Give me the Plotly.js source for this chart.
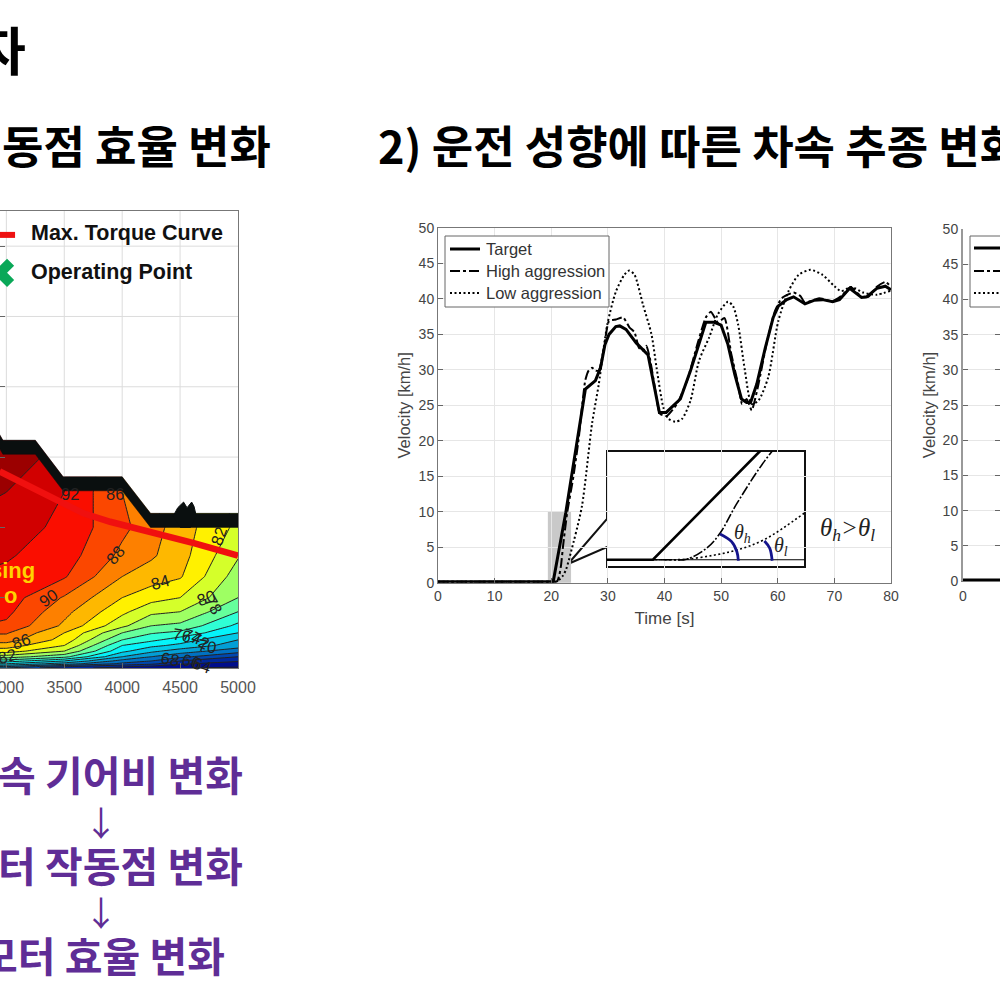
<!DOCTYPE html>
<html><head><meta charset="utf-8">
<script src="https://cdn.plot.ly/plotly-3.0.1.min.js"></script>
<style>html,body{margin:0;padding:0;background:#fff;overflow:hidden}#c{width:1000px;height:998px}</style>
</head><body><div id="c"></div>
<script>
// velocity profiles (time [s], velocity [km/h])
const targetT=[0,20.35,22.57,26.03,27.8,28.7,29.5,30.2,31.4,32.1,33.2,35,37.1,38.1,39.1,40.3,42.8,44.6,46.1,47.3,48.8,50,51.2,52.4,53.6,54.5,55.2,56.3,57.8,59.2,60.1,61.6,62.8,63.7,64.8,66.4,67.9,69.7,70.9,72.7,74.8,75.7,77.5,79,80];
const targetV=[0.15,0.15,9.9,27.3,28.5,30.3,33.6,35,36.1,36.2,35.7,33.8,32.1,28,24,24,25.9,29.9,33.6,36.7,36.7,36.3,33.6,29.4,25.9,25.4,25.4,28,33.1,37.4,39,39.9,40.3,39.9,39.3,39.8,39.9,39.6,39.9,41.5,40.2,40.3,41.5,41.8,41.3];
const highT=[0,10,15,18,19.5,20.3,20.7,21.05,21.46,21.74,22.09,22.81,23.9,24.8,26,26.6,27.2,27.8,28.4,29.3,30.2,31.4,32.7,33.8,34.7,35.5,36.2,36.8,37.4,38.3,39.2,40.4,42.2,44,45.8,47.3,48.2,49.4,50.6,51.8,53,53.7,54.5,55.4,56.6,58,59.5,60.7,62.8,64,64.8,67.3,69.7,71.2,72.9,74.8,76,77.5,79,80];
const highV=[0.15,0.15,0.15,0.15,0.15,0.15,0.15,0.2,1.18,2.52,5.2,9.84,14.9,20,28.5,29.9,30.3,29.9,29.9,33.1,36.9,37.1,37.4,36,35.3,33.1,32.7,33.4,31.7,27.5,23.8,23.5,25.2,28.5,33.6,37.4,38.2,36.7,37.3,32.2,28,25.2,25.9,24.3,28,33.6,38.3,40.1,40.9,40.4,39.5,40.1,39.7,40.4,41.7,40.3,40.3,41.7,42.4,41.7];
const lowT=[0,10,15,18,19.5,20.3,20.7,21.05,21.6,22.09,22.64,23.46,25.4,27.2,28.4,29.9,31.4,32.9,33.8,34.7,36.2,37.7,38.6,39.8,40.7,41.9,43.1,44.6,46.1,47.9,49.4,51.2,52.1,53,54.2,55.4,56.6,58.3,60.1,61.9,63.7,65.8,67.9,70,71.2,73,75.1,77.5,80];
const lowV=[0.15,0.15,0.15,0.15,0.15,0.15,0.15,0.2,0.55,1.02,1.92,4.25,10.7,22.4,28,36.4,41,43.4,44,43.4,39.2,35,30.3,24.7,23.1,22.7,23.1,25.7,31.3,34.6,37.8,39.6,39,36.4,29.9,25.2,25.7,28.9,36.9,41.1,43.4,44.1,43.4,41.8,41.1,41.7,40.9,40.6,41.2];
const zeroLineT=[20.35,23.5];
const zeroLineV=[0.15,0.15];
const arcHighT=[21.74,21.98,22.09,22.12];
const arcHighV=[2.46,1.77,0.87,0.06];
const arcLowT=[22.66,22.77,22.82];
const arcLowV=[1.83,1.18,0.06];
const second_T=[0,7];
const second_V=[0.15,0.15];
// efficiency map
const speedRpm=[2900,3000,3500,4000,4250,4500,5000];
const torqueNm=[0,1,3,5,8,12,16,20,25,30,40,50,65,80,100,125,150,175];
const effMap=[
[66,66,  62.5,61.5,60.5,60.2,59.5],
[68,68,  64.2,62.2,61.5,60.8,60.2],
[72,72,  69,  65.5,64.5,62.2,61.2],
[75,75,  72,  67.2,66,  64,  62.2],
[79,79,  76.6,70,  68,  66.5,64],
[83,83,  80,  72.5,70.5,69,  66.8],
[85,85,  82,  74,  72.5,71.5,69],
[87,87,  83.2,76,  74.5,73,  70],
[88.2,88.2,84,  78,  76.2,75.5,72],
[89.8,89.6,85.6,80.5,78,  77.5,73.5],
[90.6,90.5,86.6,82.5,80.5,80,  76],
[91.1,91,  87.8,84,  82.8,82,  78],
[91.7,91.6,90.2,86,  85,  84.2,79],
[92.3,92.2,91,  87.5,86.3,84.8,80.2],
[93.1,93,  91.5,88.5,86.9,85,  81.5],
[94.2,94,  92,  88,  86,  84.6,81.5],
[95.6,95.5,93,  88,  86,  84.6,81.5],
[96,96,  93,  88,  86,  84.6,81.5]];
const envRpm=[2900,2970,3250,3490,4000,4245,5000];
const envTop=[172,162,162,136,136,110,110];
const envBottom=[162,152,152,126,126,100,100];
const maxTorqueRpm=[2942,3231,3462,3665,3896,4113,4358,4618,5000];
const maxTorqueNm=[139.8,128,118.5,110,104,99.5,94.8,88.8,79.9];
const blobRpm=[4440,4480,4530,4560,4600,4620,4640,4590,4500];
const blobNm=[108,114,118,114,118,115,108,100,100];
const mapGridX=[3000,3000,null,3500,3500,null,4000,4000,null,4500,4500,null,2945,5000,null,2945,5000,null,2945,5000,null,3361,5000];
const mapGridY=[162,325,null,136,325,null,136,325,null,110,325,null,300,300,null,250,250,null,200,200,null,150,150];
const contourLabels=[['92',3549,124,0],['90',3361,50,-35],['88',3939,80.6,-50],['86',3130,19,-20],['86',3939,124,0],['84',4329,61,-15],['82',4835,93.6,-70],['80',4720,49.8,-20],['78',4792,45,60],['76',4517,23.7,10],['74',4604,22.5,20],['72',4670,19.7,30],['70',4734,15.4,10],['68',4416,6.4,10],['66',4590,4.7,15],['64',4690,2.4,20],['62',4820,-1,-20],['82',3006,8.3,-15]];
const F='"Liberation Sans",Arial,sans-serif', K='"Noto Sans CJK KR","Noto Sans",sans-serif';
const px=x=>x/1000, py=y=>1-y/998;
function xDom(a,b){return [a/1000,b/1000]}
function yDom(a,b){return [1-b/998,1-a/998]}
const axMain={showline:true,linecolor:'#777',linewidth:1,mirror:true,ticks:'inside',ticklen:5,tickcolor:'#666',showgrid:true,gridcolor:'#e6e6e6',zeroline:false,tickfont:{family:F,size:14,color:'#444'}};
const dd='10px,3px,3px,3px', dot='2px,2.5px';
const traces=[
{x:targetT,y:targetV,name:'Target',mode:'lines',line:{color:'#000',width:3},xaxis:'x',yaxis:'y'},
{x:highT,y:highV,name:'High aggression',mode:'lines',line:{color:'#000',width:2,dash:dd,shape:'spline',smoothing:0.5},xaxis:'x',yaxis:'y'},
{x:lowT,y:lowV,name:'Low aggression',mode:'lines',line:{color:'#000',width:2,dash:dot,shape:'spline',smoothing:0.7},xaxis:'x',yaxis:'y'},
// inset
{x:targetT,y:targetV,mode:'lines',line:{color:'#000',width:2.6},xaxis:'x2',yaxis:'y2'},
{x:highT,y:highV,mode:'lines',line:{color:'#000',width:1.6,dash:'10px,2px,2px,2px',shape:'spline'},xaxis:'x2',yaxis:'y2'},
{x:lowT,y:lowV,mode:'lines',line:{color:'#000',width:1.6,dash:dot,shape:'spline'},xaxis:'x2',yaxis:'y2'},
{x:zeroLineT,y:zeroLineV,mode:'lines',line:{color:'#000',width:1},xaxis:'x2',yaxis:'y2'},
{x:arcHighT,y:arcHighV,mode:'lines',line:{color:'#14148c',width:2.8,shape:'spline'},xaxis:'x2',yaxis:'y2'},
{x:arcLowT,y:arcLowV,mode:'lines',line:{color:'#14148c',width:2.8,shape:'spline'},xaxis:'x2',yaxis:'y2'},
// second velocity chart
{x:second_T,y:second_V,mode:'lines',line:{color:'#000',width:3},xaxis:'x3',yaxis:'y3',cliponaxis:false},
// efficiency map
{type:'contour',x:speedRpm,y:torqueNm,z:effMap,xaxis:'x4',yaxis:'y4',showscale:false,zmin:60,zmax:96,colorscale:'Jet',autocontour:false,
 contours:{start:60,end:96,size:2,coloring:'fill'},line:{color:'#222',width:1,smoothing:0},hoverinfo:'skip'},
{x:[2900,2970,3250,3490,4000,4245,5000,5000,2900],y:[172,162,162,136,136,110,110,325,325],mode:'lines',fill:'toself',fillcolor:'#fff',line:{width:0,color:'#fff'},xaxis:'x4',yaxis:'y4',hoverinfo:'skip'},
{x:mapGridX,y:mapGridY,mode:'lines',line:{color:'#dcdcdc',width:1},xaxis:'x4',yaxis:'y4',hoverinfo:'skip',connectgaps:false},
{x:envRpm.concat(envRpm.slice().reverse()),y:envTop.concat(envBottom.slice().reverse()),mode:'lines',fill:'toself',fillcolor:'#0a0f0f',line:{width:0.5,color:'#0a0f0f'},xaxis:'x4',yaxis:'y4',hoverinfo:'skip'},
{x:blobRpm,y:blobNm,mode:'lines',fill:'toself',fillcolor:'#0a0f0f',line:{width:1,color:'#0a0f0f'},xaxis:'x4',yaxis:'y4',hoverinfo:'skip'},
{x:maxTorqueRpm,y:maxTorqueNm,mode:'lines',line:{color:'#f0100f',width:6.5},xaxis:'x4',yaxis:'y4',hoverinfo:'skip'},
{x:[2945,3075],y:[308,308],mode:'lines',line:{color:'#ee1111',width:6},xaxis:'x4',yaxis:'y4',hoverinfo:'skip'},
{x:[2945],y:[281],mode:'markers',marker:{symbol:'x',color:'#0aa858',size:25,line:{width:0}},xaxis:'x4',yaxis:'y4',hoverinfo:'skip',cliponaxis:false}
];
const annos=[];
function T(text,x,y,size,color,anchor,font,weight,extra){annos.push(Object.assign({text:weight?'<b>'+text+'</b>':text,xref:'paper',yref:'paper',x:px(x),y:py(y),xanchor:anchor||'left',yanchor:'middle',showarrow:false,font:{family:font||F,size:size,color:color||'#000'}},extra||{}));}
const purple='#5f2d96';
T('자',28,48,52,'#000','right',K,true);
T('동점 효율 변화',273,144,45,'#000','right',K,true);
T('2) 운전 성향에 따른 차속 추종 변화',376,144,45,'#000','left',K,true);
T('속 기어비 변화',245,773,41,purple,'right',K,true);
T('터 작동점 변화',245,864,41,purple,'right',K,true);
T('모터 효율 변화',227,954,41,purple,'right',K,true);
T('↓',101,821,34,purple,'center',K);
T('↓',101,911,34,purple,'center',K);
T('Max. Torque Curve',29,233,21.5,'#111','left',F,true);
T('Operating Point',29,272,21.5,'#111','left',F,true);
T('sing',37,570,22,'#ffd200','right',F,true);
T('o',10,595,22,'#ffd200','center',F,true);
T('<i>θ<sub>h</sub>&gt;θ<sub>l</sub></i>',818,529,25,'#222','left','"Liberation Serif",serif');
T('<i>θ<sub>h</sub></i>',732,533,20,'#222','left','"Liberation Serif",serif');
T('<i>θ<sub>l</sub></i>',772,546,20,'#222','left','"Liberation Serif",serif');
T('Target',484,249,16.5,'#333','left',F);
T('High aggression',484,271,16.5,'#333','left',F);
T('Low aggression',484,293,16.5,'#333','left',F);
contourLabels.forEach(c=>annos.push({text:c[0],xref:'x4',yref:'y4',x:c[1],y:c[2],showarrow:false,textangle:c[3],font:{family:F,size:16.5,color:'#222'}}));
function legendShapes(x0,x1,ys,box){return [
{type:'rect',xref:'paper',yref:'paper',x0:px(box[0]),x1:px(box[1]),y0:py(box[3]),y1:py(box[2]),line:{color:'#666',width:1},fillcolor:'#fff',layer:'above'},
{type:'line',xref:'paper',yref:'paper',x0:px(x0),x1:px(x1),y0:py(ys[0]),y1:py(ys[0]),line:{color:'#000',width:3},layer:'above'},
{type:'line',xref:'paper',yref:'paper',x0:px(x0),x1:px(x1),y0:py(ys[1]),y1:py(ys[1]),line:{color:'#000',width:2,dash:dd},layer:'above'},
{type:'line',xref:'paper',yref:'paper',x0:px(x0),x1:px(x1),y0:py(ys[2]),y1:py(ys[2]),line:{color:'#000',width:2,dash:dot},layer:'above'}];}
const shapes=[
{type:'rect',xref:'x',yref:'y',x0:19.4,x1:23.5,y0:-0.47,y1:9.95,fillcolor:'#c9c9c9',line:{width:0},layer:'below'},
{type:'path',xref:'paper',yref:'paper',layer:'below',
 path:`M ${px(607)} ${py(519)} L ${px(607)} ${py(451)} L ${px(805)} ${py(451)} L ${px(805)} ${py(567)} L ${px(607)} ${py(567)} L ${px(607)} ${py(547)} L ${px(568)} ${py(564)} Z`,
 line:{color:'#111',width:2},fillcolor:'rgba(255,255,255,0)'}
].concat(legendShapes(450,480,[249,271,293],[445,609,236,307]),legendShapes(974,1010,[248,271,293],[970,1050,236,307]));
const velTitle=s=>({text:'Velocity [km/h]',font:{family:F,size:16.5,color:'#444'},standoff:s});
const layout={width:1000,height:998,margin:{l:0,r:0,t:0,b:0,pad:0},paper_bgcolor:'#fff',plot_bgcolor:'rgba(0,0,0,0)',font:{family:F},hovermode:false,
 showlegend:false,
 xaxis:Object.assign({},axMain,{domain:xDom(438,891),range:[0,80],dtick:10,anchor:'y',ticklabeloverflow:'allow',title:{text:'Time [s]',font:{family:F,size:17,color:'#444'},standoff:9}}),
 yaxis:Object.assign({},axMain,{domain:yDom(228,582.7),range:[0,50],dtick:5,anchor:'x',ticklabeloverflow:'allow',title:velTitle(3)}),
 xaxis2:{domain:xDom(607,805),range:[19.4,23.5],anchor:'y2',visible:false},
 yaxis2:{domain:yDom(451,567),range:[-0.5,9.9],anchor:'x2',visible:false},
 xaxis3:Object.assign({},axMain,{domain:xDom(963,1000),range:[0,6.6],tickvals:[0],anchor:'y3',mirror:false,ticklabeloverflow:'allow',showgrid:false,ticklabelstandoff:2}),
 yaxis3:Object.assign({},axMain,{domain:yDom(229,581),range:[0,50],dtick:5,anchor:'x3',mirror:'allticks',ticklabeloverflow:'allow',linewidth:2,linecolor:'#999',title:velTitle(3)}),
 xaxis4:{domain:xDom(0,238),range:[2945,5000],tickvals:[3000,3500,4000,4500,5000],anchor:'y4',showgrid:false,zeroline:false,showline:true,linecolor:'#777',mirror:true,ticks:'inside',ticklen:5,tickcolor:'#666',tickfont:{family:F,size:16,color:'#555'},ticklabeloverflow:'allow',ticklabelstandoff:5},
 yaxis4:{domain:yDom(211,668),range:[0,325],dtick:50,anchor:'x4',showgrid:false,zeroline:false,showline:true,linecolor:'#777',mirror:true,ticks:'inside',ticklen:5,tickcolor:'#666',showticklabels:false},
 annotations:annos,shapes:shapes};
Plotly.newPlot('c',traces,layout,{displayModeBar:false,staticPlot:true});
</script></body></html>
